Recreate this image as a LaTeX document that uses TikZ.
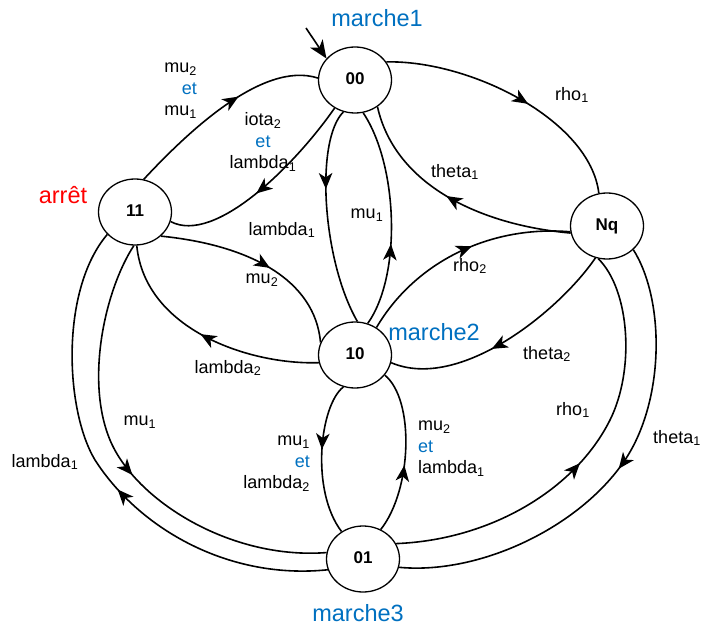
\documentclass[tikz,border=0pt]{standalone}
\usepackage{fontspec}
\setmainfont{Liberation Sans}
\usetikzlibrary{arrows.meta,decorations.markings,shapes.geometric}
\definecolor{mblue}{RGB}{0,112,192}
\definecolor{mred}{RGB}{255,0,0}
\tikzset{
  mtip/.tip={Stealth[length=16pt,width=13.5pt,inset=4.5pt]},
  st/.style={ellipse, draw, line width=1.3pt, minimum width=73pt, minimum height=66pt, inner sep=0pt,
    font=\fontsize{17}{20}\selectfont\bfseries},
  ed/.style={line width=1.6pt},
  midarr/.style={postaction={decorate}, decoration={markings, mark=at position #1 with {\arrow{mtip}}}},
  lb/.style={font=\fontsize{18}{21.5}\selectfont, inner sep=0pt},
  tag/.style={font=\fontsize{23.5}{28}\selectfont, inner sep=0pt},
}
\newcommand\sbs[2]{#1\textsubscript{#2}}
\begin{document}
\begin{tikzpicture}[x=1pt,y=-1pt]
\useasboundingbox (0,0) rectangle (701,628);
% states
\node[st] (n00) at (355,80) {\raisebox{2pt}{00}};
\node[st] (n11) at (135,212) {\raisebox{2pt}{11}};
\node[st] (nNq) at (607,226) {\raisebox{2pt}{Nq}};
\node[st] (n10) at (355,355) {\raisebox{2pt}{10}};
\node[st] (n01) at (363,559) {\raisebox{2pt}{01}};
% tags
\node[tag, text=mblue] (t1) at (377,18) {marche1};
\node[tag, text=mred] (t0) at (63,195) {arrêt};
\node[tag, text=mblue] (t2) at (434,332) {marche2};
\node[tag, text=mblue] (t3) at (358,613) {marche3};
% start arrow
\coordinate (st0) at (306,28);
\draw[ed, -{Stealth[length=18pt,width=15pt,inset=5pt]}] (st0) -- (n00.143);
% edges
\draw[ed, midarr=0.6] (n11.75) .. controls (185,135) and (262,60) .. (n00.177);
\draw[ed, midarr=0.55] (n00.234) .. controls (295,165) and (215,245) .. (n11.345);
\draw[ed, midarr=0.37] (n00.250) .. controls (315,140) and (322,260) .. (n10.86);
\draw[ed, midarr=0.38] (n10.68) .. controls (402,275) and (398,165) .. (n00.284);
\draw[ed, midarr=0.56] (n00.30) .. controls (470,60) and (590,120) .. (nNq.104);
\draw[ed, midarr=0.53] (nNq.191) .. controls (480,225) and (395,185) .. (n00.310);
\draw[ed, midarr=0.56] (n10.52) .. controls (415,262) and (490,225) .. (nNq.189);
\draw[ed, midarr=0.57] (nNq.250) .. controls (560,310) and (460,392) .. (n10.348);
\draw[ed, midarr=0.55] (n11.317) .. controls (250,245) and (315,280) .. (n10.160);
\draw[ed, midarr=0.52] (n10.192) .. controls (250,365) and (145,330) .. (n11.273);
\draw[ed, midarr=0.53] (n11.268) .. controls (105,290) and (85,380) .. (110,440)
   .. controls (135,500) and (230,560) .. (n01.170);
\draw[ed, midarr=0.46] (n01.197) .. controls (230,580) and (140,530) .. (95,460)
   .. controls (65,410) and (60,290) .. (n11.219);
\draw[ed, midarr=0.44] (n10.250) .. controls (320,405) and (310,490) .. (n01.128);
\draw[ed, midarr=0.42] (n01.59) .. controls (412,490) and (415,400) .. (n10.326);
\draw[ed, midarr=0.48] (n01.25) .. controls (490,540) and (575,490) .. (610,420)
   .. controls (635,370) and (630,290) .. (nNq.255);
\draw[ed, midarr=0.48] (nNq.318) .. controls (665,300) and (665,400) .. (625,460)
   .. controls (580,527) and (480,575) .. (n01.347);
% labels
\node[lb, align=right, anchor=east] (l1) at (197,91) {\sbs{mu}{2}\\\textcolor{mblue}{et}\\\sbs{mu}{1}};
\node[lb, align=center] (l2) at (263,142) {\sbs{iota}{2}\\\textcolor{mblue}{et}\\\sbs{lambda}{1}};
\node[lb] (l3) at (282,230) {\sbs{lambda}{1}};
\node[lb] (l4) at (367,215) {\sbs{mu}{1}};
\node[lb] (l5) at (572,95) {\sbs{rho}{1}};
\node[lb] (l6) at (455,172) {\sbs{theta}{1}};
\node[lb] (l7) at (470,266) {\sbs{rho}{2}};
\node[lb] (l8) at (547,354) {\sbs{theta}{2}};
\node[lb] (l9) at (262,280) {\sbs{mu}{2}};
\node[lb] (l10) at (228,368) {\sbs{lambda}{2}};
\node[lb] (l11) at (140,422) {\sbs{mu}{1}};
\node[lb] (l12) at (45,462) {\sbs{lambda}{1}};
\node[lb, align=right, anchor=east] (l13) at (310,464) {\sbs{mu}{1}\\\textcolor{mblue}{et}\\\sbs{lambda}{2}};
\node[lb, align=left, anchor=west] (l14) at (418,449) {\sbs{mu}{2}\\\textcolor{mblue}{et}\\\sbs{lambda}{1}};
\node[lb] (l15) at (573,410) {\sbs{rho}{1}};
\node[lb] (l16) at (677,438) {\sbs{theta}{1}};
\end{tikzpicture}
\end{document}
